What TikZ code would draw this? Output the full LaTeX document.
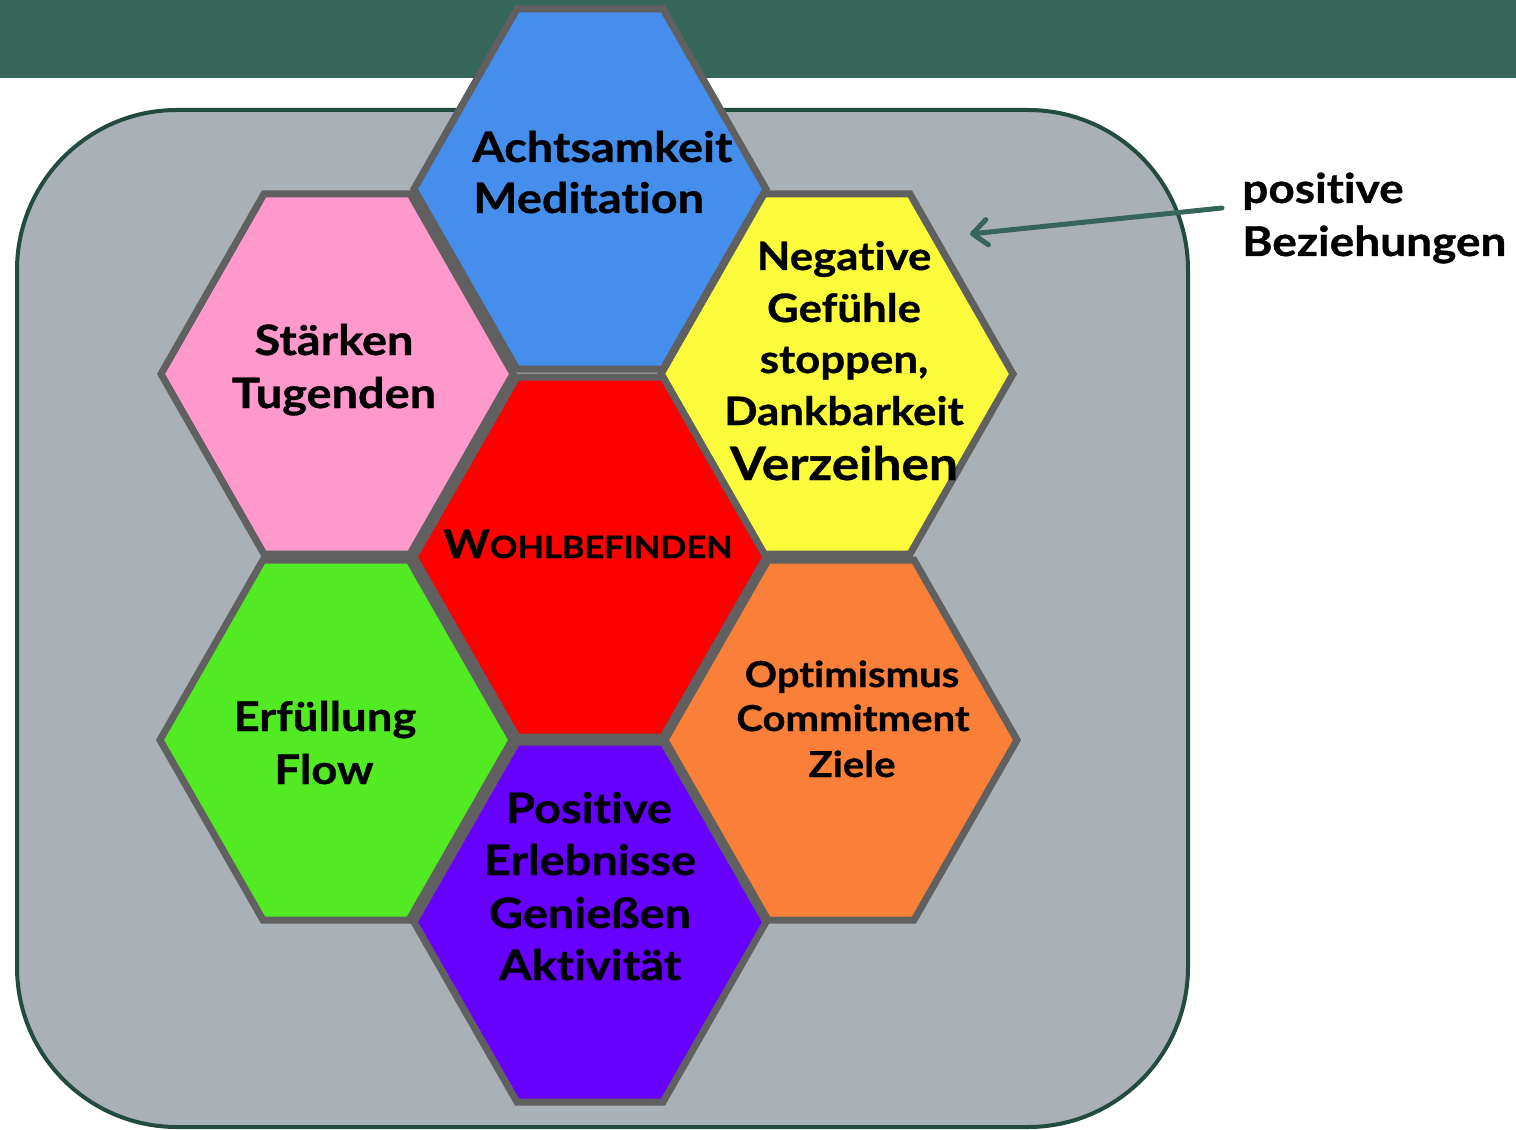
\documentclass[tikz,border=0pt]{standalone}
\usepackage{fontspec}
\setmainfont{Lato}[UprightFont=* Bold, BoldFont=* Bold, Ligatures=NoCommon, RawFeature=-liga, FakeStretch=1.12, FakeBold=0.8]
\usetikzlibrary{arrows.meta}
\definecolor{band}{HTML}{36655A}
\definecolor{framecol}{HTML}{234B3F}
\definecolor{bggray}{HTML}{A9B0B6}
\definecolor{hexline}{HTML}{606060}
\definecolor{cblue}{HTML}{458EEC}
\definecolor{cpink}{HTML}{FF99CC}
\definecolor{cyellow}{HTML}{FBFB3B}
\definecolor{cred}{HTML}{FF0000}
\definecolor{cgreen}{HTML}{52EA23}
\definecolor{corange}{HTML}{FA8039}
\definecolor{cpurple}{HTML}{6600FF}
\tikzset{
  hexcell/.style={draw=hexline, line width=5.25pt, line join=miter},
  lbl/.style={inner sep=0pt, anchor=base, text=black},
  arrowline/.style={draw=band, line width=3.75pt, line cap=round, line join=round,
    -{Straight Barb[length=11pt,width=19pt,line cap=round,line join=round]}},
}
\newcommand\hexcellat[2]{\draw[hexcell, fill=#2, shift={(#1)}] (-176,0) -- (-73,-180) -- (73,-180) -- (176,0) -- (73,180) -- (-73,180) -- cycle;}
\newcommand\fs[1]{\fontsize{#1}{#1}\selectfont}
\begin{document}
\begin{tikzpicture}[x=0.75pt,y=-0.75pt]
\useasboundingbox (0,0) rectangle (1516,1130);
% top band
\fill[band] (0,0) rectangle (1516,78);
% rounded frame
\draw[fill=bggray, draw=framecol, line width=3pt, rounded corners=120pt] (17,110) rectangle (1188,1127);
% hexagon centres
\coordinate (blue) at (590,189);
\coordinate (pink) at (337,374);
\coordinate (yellow) at (837,374);
\coordinate (red) at (590,557);
\coordinate (green) at (336,740);
\coordinate (orange) at (841,740);
\coordinate (purple) at (590,922);
\hexcellat{blue}{cblue}
\hexcellat{pink}{cpink}
\hexcellat{yellow}{cyellow}
\hexcellat{red}{cred}
\hexcellat{green}{cgreen}
\hexcellat{orange}{corange}
\hexcellat{purple}{cpurple}
% texts
\node[lbl, anchor=base west, font=\fs{31.4}] (blueA) at (472,162) {Achtsamkeit};
\node[lbl, anchor=base west, font=\fs{31.4}] (blueB) at (473,213) {Meditation};
\node[lbl, font=\fs{31.4}] (pinkA) at (334,355) {Stärken};
\node[lbl, font=\fs{31.4}] (pinkB) at (334,408) {Tugenden};
\node[lbl, font=\fs{29.3}] (yelA) at (844,270) {Negative};
\node[lbl, font=\fs{29.3}] (yelB) at (844,322) {Gefühle};
\node[lbl, font=\fs{29.3}] (yelC) at (844,373) {stoppen,};
\node[lbl, font=\fs{29.3}] (yelD) at (844,425) {Dankbarkeit};
\node[lbl, font=\fs{34.5}] (yelE) at (844,480) {Verzeihen};
\node[lbl] (redA) at (588,558) {\fs{29.5}W\fs{23}OHLBEFINDEN};
\node[lbl, font=\fs{30.5}] (greenA) at (325,731) {Erfüllung};
\node[lbl, font=\fs{30.5}] (greenB) at (324,784) {Flow};
\node[lbl, font=\fs{26.8}] (orA) at (852,687) {Optimismus};
\node[lbl, font=\fs{26.8}] (orB) at (853,731) {Commitment};
\node[lbl, font=\fs{26.8}] (orC) at (852,777) {Ziele};
\node[lbl, font=\fs{31.4}] (purA) at (589,823) {Positive};
\node[lbl, font=\fs{31.4}] (purB) at (590,875) {Erlebnisse};
\node[lbl, font=\fs{31.4}] (purC) at (590,928) {Genießen};
\node[lbl, font=\fs{31.4}] (purD) at (590,980) {Aktivität};
% side label and arrow
\node[lbl, anchor=base west, font=\fs{30.8}] (relA) at (1242,203) {positive};
\node[lbl, anchor=base west, font=\fs{30.8}] (relB) at (1242,256) {Beziehungen};
\coordinate (arrtail) at (1222,208);
\coordinate (arrtip) at (970,234);
\draw[arrowline] (arrtail) -- (arrtip);
\end{tikzpicture}
\end{document}
